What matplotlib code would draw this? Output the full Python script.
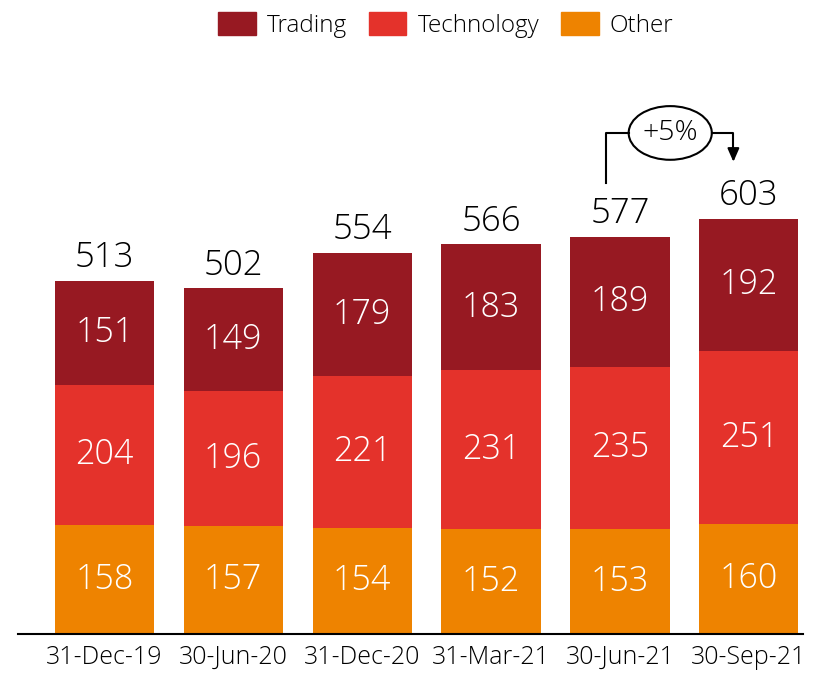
import matplotlib.pyplot as plt
from matplotlib.patches import Ellipse, Patch
import numpy as np

plt.rcParams['font.family'] = ['Open Sans', 'DejaVu Sans']
plt.rcParams['font.weight'] = 'light'

# data
dates = ['31-Dec-19', '30-Jun-20', '31-Dec-20', '31-Mar-21', '30-Jun-21', '30-Sep-21']
other = [158, 157, 154, 152, 153, 160]
technology = [204, 196, 221, 231, 235, 251]
trading = [151, 149, 179, 183, 189, 192]
totals = [513, 502, 554, 566, 577, 603]
growth_label = '+5%'

c_trading = '#971922'
c_tech = '#E4322B'
c_other = '#EE8300'

fig = plt.figure(figsize=(8.18, 6.73), dpi=100)
ax = fig.add_axes([18 / 818, 39 / 673, 785 / 818, 574 / 673])

x = np.arange(len(dates))
w = 0.77
ax.bar(x, other, w, color=c_other)
ax.bar(x, technology, w, bottom=other, color=c_tech)
bottom3 = np.array(other) + np.array(technology)
ax.bar(x, trading, w, bottom=bottom3, color=c_trading)

# segment labels
for i in x:
    ax.text(i, other[i] / 2, str(other[i]), ha='center', va='center', color='white', fontsize=24.5)
    ax.text(i, other[i] + technology[i] / 2, str(technology[i]), ha='center', va='center',
            color='white', fontsize=24.5)
    ax.text(i, bottom3[i] + trading[i] / 2, str(trading[i]), ha='center', va='center',
            color='white', fontsize=24.5)
    ax.annotate(str(totals[i]), (i, bottom3[i] + trading[i]), xytext=(0, 10),
                textcoords='offset points', ha='center', va='baseline', fontsize=25)

# growth bracket between last two bars
xl = x[-2] - 0.11
xr = x[-1] - 0.12
y_top = totals[-1] + 125
ex = x[-2] + 0.39
ew = 0.645
ax.plot([xl, xl, ex - ew / 2], [totals[-2] + 78, y_top, y_top], color='black', lw=1.5)
ax.plot([ex + ew / 2, xr, xr], [y_top, y_top, totals[-1] + 100], color='black', lw=1.5)
ax.annotate('', xy=(xr, totals[-1] + 79), xytext=(xr, totals[-1] + 101),
            arrowprops=dict(arrowstyle='-|>,head_width=0.35,head_length=0.8', color='black', lw=1.5))
ax.add_patch(Ellipse((ex, y_top), ew, 78, facecolor='white', edgecolor='black', lw=1.5))
ax.text(ex, y_top, growth_label, ha='center', va='center', fontsize=20.5)

ax.set_xlim(-0.67, 5.42)
ax.set_ylim(0, 834)
ax.set_xticks(x)
ax.set_xticklabels(dates, fontsize=18)
ax.tick_params(axis='x', length=0, pad=8)
ax.set_yticks([])
for s in ['top', 'right', 'left']:
    ax.spines[s].set_visible(False)
ax.spines['bottom'].set_linewidth(1.5)

handles = [Patch(color=c_trading), Patch(color=c_tech), Patch(color=c_other)]
fig.legend(handles, ['Trading', 'Technology', 'Other'], loc='upper center', bbox_to_anchor=(0.545, 1.015),
           ncol=3, frameon=False, fontsize=17.5, handlelength=1.55, handleheight=1.1,
           handletextpad=0.45, columnspacing=0.9)

fig.savefig('out.png', dpi=100)
